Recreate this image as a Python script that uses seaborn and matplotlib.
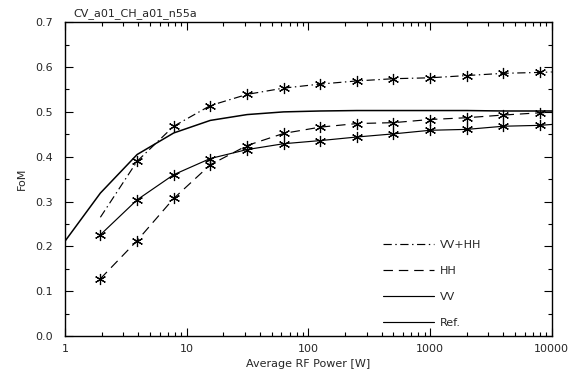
import matplotlib
matplotlib.use("Agg")
import matplotlib.pyplot as plt
import seaborn as sns
from matplotlib.lines import Line2D
from matplotlib.ticker import MultipleLocator, LogLocator, NullFormatter, FixedLocator, FixedFormatter

# ---- data ----
power = [1.95, 3.91, 7.81, 15.6, 31.3, 62.5, 125, 250, 500, 1000, 2000, 4000, 8000, 10000]
vvhh = [0.265, 0.390, 0.468, 0.514, 0.539, 0.553, 0.562, 0.569, 0.574, 0.576, 0.581, 0.586, 0.588, 0.589]
hh = [0.128, 0.213, 0.307, 0.382, 0.425, 0.452, 0.466, 0.474, 0.476, 0.483, 0.487, 0.493, 0.498, 0.499]
vv = [0.226, 0.304, 0.360, 0.396, 0.416, 0.429, 0.436, 0.444, 0.451, 0.459, 0.461, 0.468, 0.470, 0.472]
ref_power = [1, 1.95, 3.91, 7.81, 15.6, 31.3, 62.5, 125, 250, 500, 1000, 2000, 4000, 8000, 10000]
ref = [0.212, 0.319, 0.405, 0.453, 0.481, 0.494, 0.500, 0.502, 0.503, 0.503, 0.503, 0.503, 0.502, 0.502, 0.502]

legend_labels = ["VV+HH", "HH", "VV", "Ref."]
title = "CV_a01_CH_a01_n55a"
xlabel = "Average RF Power [W]"
ylabel = "FoM"
xtick_vals = [1, 10, 100, 1000, 10000]
xtick_labels = ["1", "10", "100", "1000", "10000"]
ytick_vals = [0.0, 0.1, 0.2, 0.3, 0.4, 0.5, 0.6, 0.7]
ytick_labels = ["0.0", "0.1", "0.2", "0.3", "0.4", "0.5", "0.6", "0.7"]

# ---- style ----
sns.set_style("ticks")
plt.rcParams['font.family'] = ['DejaVu Sans']
FS = 8
LW = 0.85
star = (6, 2, 0)
dashdot = (0, (7, 3, 1.2, 3))
dashed = (0, (8, 5))
MS = 8

fig = plt.figure(figsize=(5.76, 3.76), dpi=100)
ax = fig.add_axes([0.113, 0.106, 0.845, 0.835])

mk_all = list(range(0, 13))
mk_vvhh = list(range(1, 13))

sns.lineplot(x=power, y=vvhh, ax=ax, color='k', lw=LW, linestyle=dashdot,
             marker=star, markersize=MS, markevery=mk_vvhh, mec='k', mew=LW, sort=False)
sns.lineplot(x=power, y=hh, ax=ax, color='k', lw=LW, linestyle=dashed,
             marker=star, markersize=MS, markevery=mk_all, mec='k', mew=LW, sort=False)
sns.lineplot(x=power, y=vv, ax=ax, color='k', lw=LW, linestyle='-',
             marker=star, markersize=MS, markevery=mk_all, mec='k', mew=LW, sort=False)
sns.lineplot(x=ref_power, y=ref, ax=ax, color='k', lw=1.1, linestyle='-', sort=False)

ax.set_xscale('log')
ax.set_xlim(1, 10000)
ax.set_ylim(0.0, 0.7)

ax.xaxis.set_major_locator(FixedLocator(xtick_vals))
ax.xaxis.set_major_formatter(FixedFormatter(xtick_labels))
ax.xaxis.set_minor_locator(LogLocator(base=10, subs=range(2, 10)))
ax.xaxis.set_minor_formatter(NullFormatter())
ax.yaxis.set_major_locator(FixedLocator(ytick_vals))
ax.yaxis.set_major_formatter(FixedFormatter(ytick_labels))
ax.yaxis.set_minor_locator(MultipleLocator(0.05))

ax.tick_params(which='both', direction='in', top=True, right=True, color='k',
               labelsize=FS, width=0.8)
ax.tick_params(which='major', length=6)
ax.tick_params(which='minor', length=3)
ax.tick_params(axis='y', which='major', pad=9)
ax.tick_params(axis='x', which='major', pad=6)
for s in ax.spines.values():
    s.set_color('k')
    s.set_linewidth(1.0)

ax.set_xlabel(xlabel, fontsize=FS, labelpad=3)
ax.set_ylabel(ylabel, fontsize=FS, labelpad=6)
ax.text(0.016, 1.01, title, transform=ax.transAxes, fontsize=FS, ha='left', va='bottom')

handles = [Line2D([], [], color='k', lw=LW, linestyle=dashdot),
           Line2D([], [], color='k', lw=LW, linestyle=dashed),
           Line2D([], [], color='k', lw=LW, linestyle='-'),
           Line2D([], [], color='k', lw=LW, linestyle='-')]
ax.legend(handles, legend_labels, loc='lower left', bbox_to_anchor=(0.653, 0.025),
          frameon=False, fontsize=FS, handlelength=4.6, labelspacing=1.45,
          handletextpad=0.5, borderaxespad=0, borderpad=0)

fig.savefig("out.png", dpi=100)
